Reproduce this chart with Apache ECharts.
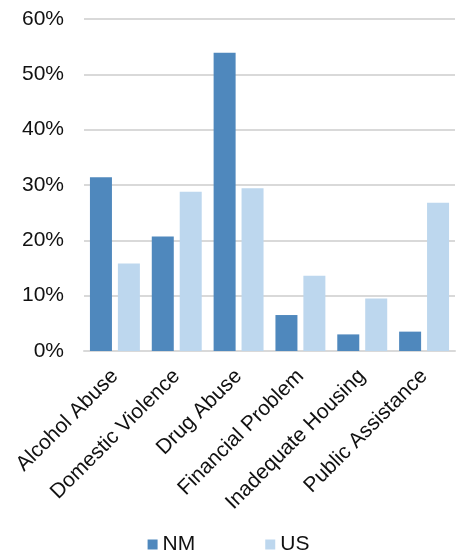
<!DOCTYPE html>
<html><head><meta charset="utf-8">
<script src="https://cdn.jsdelivr.net/npm/echarts@6/dist/echarts.min.js"></script>
<style>html,body{margin:0;padding:0;background:#fff}#c{width:457px;height:550px}</style>
</head><body><div id="c"></div>
<script>
var categories = ['Alcohol Abuse','Domestic Violence','Drug Abuse','Financial Problem','Inadequate Housing','Public Assistance'];
var nmValues = [31.4, 20.7, 53.9, 6.5, 3.0, 3.5];
var usValues = [15.8, 28.8, 29.4, 13.6, 9.5, 26.8];
var yTicks = [0, 10, 20, 30, 40, 50, 60];

var chart = echarts.init(document.getElementById('c'), null, {renderer:'canvas'});
var font = 'Arial, "Liberation Sans", sans-serif';
chart.setOption({
  animation:false,
  grid:{left:84, right:2, top:19, bottom:199, containLabel:false},
  legend:{
    data:['NM','US'], top:529, left:'center', itemWidth:10, itemHeight:10, itemGap:70,
    icon:'rect', textStyle:{fontFamily:font, fontSize:21, color:'#111'}
  },
  xAxis:{
    type:'category', data:categories,
    axisLine:{lineStyle:{color:'#d9d9d9', width:2}},
    axisTick:{show:false},
    axisLabel:{rotate:45, interval:0, margin:22, fontFamily:font, fontSize:21, color:'#111'}
  },
  yAxis:{
    type:'value', min:yTicks[0], max:yTicks[yTicks.length-1], interval:10,
    axisLine:{show:false}, axisTick:{show:false},
    splitLine:{lineStyle:{color:'#d9d9d9', width:2}},
    axisLabel:{formatter:'{value}%', margin:20, fontFamily:font, fontSize:21, color:'#111'}
  },
  series:[
    {name:'NM', type:'bar', data:nmValues, barWidth:22, barGap:'27%', itemStyle:{color:'#4f88bd'}},
    {name:'US', type:'bar', data:usValues, barWidth:22, itemStyle:{color:'#bdd7ee'}}
  ]
});
</script></body></html>
